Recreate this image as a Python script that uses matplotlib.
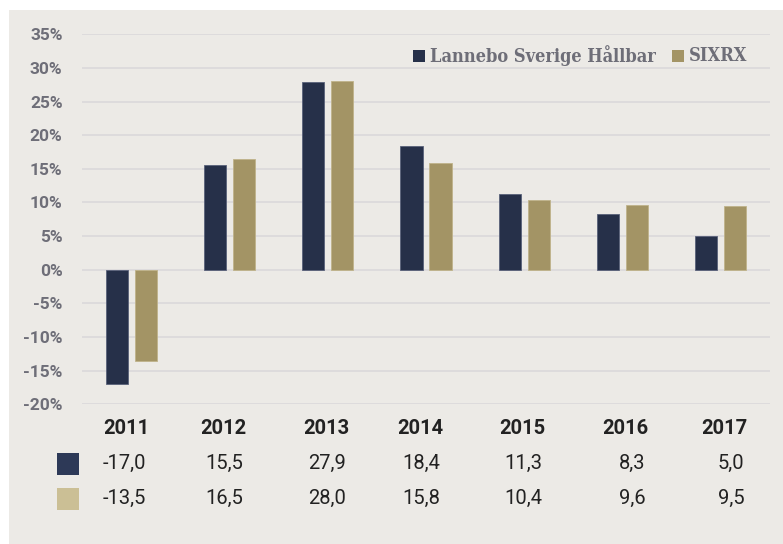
import matplotlib
matplotlib.use("Agg")
import matplotlib.pyplot as plt
import numpy as np
from matplotlib.patches import Rectangle
from matplotlib.transforms import blended_transform_factory
from matplotlib import font_manager as fm

years = ["2011", "2012", "2013", "2014", "2015", "2016", "2017"]
fund = [-17.0, 15.5, 27.9, 18.4, 11.3, 8.3, 5.0]
index = [-13.5, 16.5, 28.0, 15.8, 10.4, 9.6, 9.5]
series_names = ["Lannebo Sverige Hållbar", "SIXRX"]
yticks = [-20, -15, -10, -5, 0, 5, 10, 15, 20, 25, 30, 35]

DARK = "#263049"
GOLD = "#A39465"
GOLD_LIGHT = "#CBBF95"
DARK_SW = "#2D3957"
BG = "#ECEAE6"
GRID = "#DDDBDC"
GREY_TXT = "#6E6E78"
TXT = "#222222"

# legend font: condensed DejaVu Serif if available
leg_props = dict(fontfamily="DejaVu Serif", fontweight="bold", fontsize=11.8)
try:
    p = fm.findfont(fm.FontProperties(family="DejaVu Serif", weight="bold", stretch="condensed"),
                    fallback_to_default=False)
    if "Condensed" in p:
        leg_props = dict(fontfamily="DejaVu Serif", fontweight="bold", fontstretch="condensed",
                         fontsize=13.1)
except Exception:
    pass

W, H = 783, 544
fig = plt.figure(figsize=(W / 100, H / 100), dpi=100, facecolor="white")
fig.patches.append(Rectangle((9 / W, 0), 1 - 9 / W, 1 - 10 / H, transform=fig.transFigure,
                             facecolor=BG, edgecolor="none", zorder=-10))

ax = fig.add_axes([82 / W, 1 - 404.3 / H, (770 - 82) / W, (404.3 - 34.3) / H])
ax.set_facecolor("none")
x = np.arange(len(years))
bw = 0.225
off = 0.147
ax.bar(x - off, fund, bw, color=DARK, edgecolor="#59617A", linewidth=0.6, zorder=3)
ax.bar(x + off, index, bw, color=GOLD, edgecolor="#BFB38A", linewidth=0.6, zorder=3)

ax.set_xlim(-0.5, 6.5)
ax.set_ylim(-20, 35)
ax.set_yticks(yticks)
ax.set_yticklabels([f"{t}%" for t in yticks], fontfamily="Roboto", fontweight="bold",
                   fontsize=12.5, color=GREY_TXT)
ax.tick_params(axis="y", length=0, pad=14)
ax.set_xticks([])
for s in ax.spines.values():
    s.set_visible(False)
ax.yaxis.grid(True, color=GRID, linewidth=1.4, zorder=0)
ax.set_axisbelow(True)


def fy(py):
    return 1 - py / H


# legend
fig.patches.append(Rectangle((413 / W, fy(62)), 12 / W, 12 / H, transform=fig.transFigure,
                             facecolor=DARK, edgecolor="none"))
fig.text(430 / W, fy(56), series_names[0], color=GREY_TXT, va="center", ha="left", **leg_props)
fig.patches.append(Rectangle((672 / W, fy(62)), 12 / W, 12 / H, transform=fig.transFigure,
                             facecolor=GOLD, edgecolor="none"))
fig.text(689 / W, fy(56), series_names[1], color=GREY_TXT, va="center", ha="left", **leg_props)

# table below
col_x = [-0.05, 0.94, 1.99, 2.94, 3.98, 5.03, 6.04]
tr = blended_transform_factory(ax.transData, fig.transFigure)
fmt = lambda v: f"{v:.1f}".replace(".", ",")
for cx, yr, a, b in zip(col_x, years, fund, index):
    ax.text(cx, fy(429), yr, transform=tr, ha="center", va="center", fontfamily="Roboto",
            fontweight="bold", fontsize=14.5, color=TXT, clip_on=False)
    ax.text(cx + 0.2, fy(463), fmt(a), transform=tr, ha="right", va="center",
            fontfamily="Roboto", fontsize=14.5, color=TXT, clip_on=False)
    ax.text(cx + 0.2, fy(498), fmt(b), transform=tr, ha="right", va="center",
            fontfamily="Roboto", fontsize=14.5, color=TXT, clip_on=False)

fig.patches.append(Rectangle((57 / W, fy(475)), 22 / W, 22 / H, transform=fig.transFigure,
                             facecolor=DARK_SW, edgecolor="none"))
fig.patches.append(Rectangle((57 / W, fy(510)), 22 / W, 22 / H, transform=fig.transFigure,
                             facecolor=GOLD_LIGHT, edgecolor="none"))

fig.savefig("out.png", dpi=100, facecolor="white")
